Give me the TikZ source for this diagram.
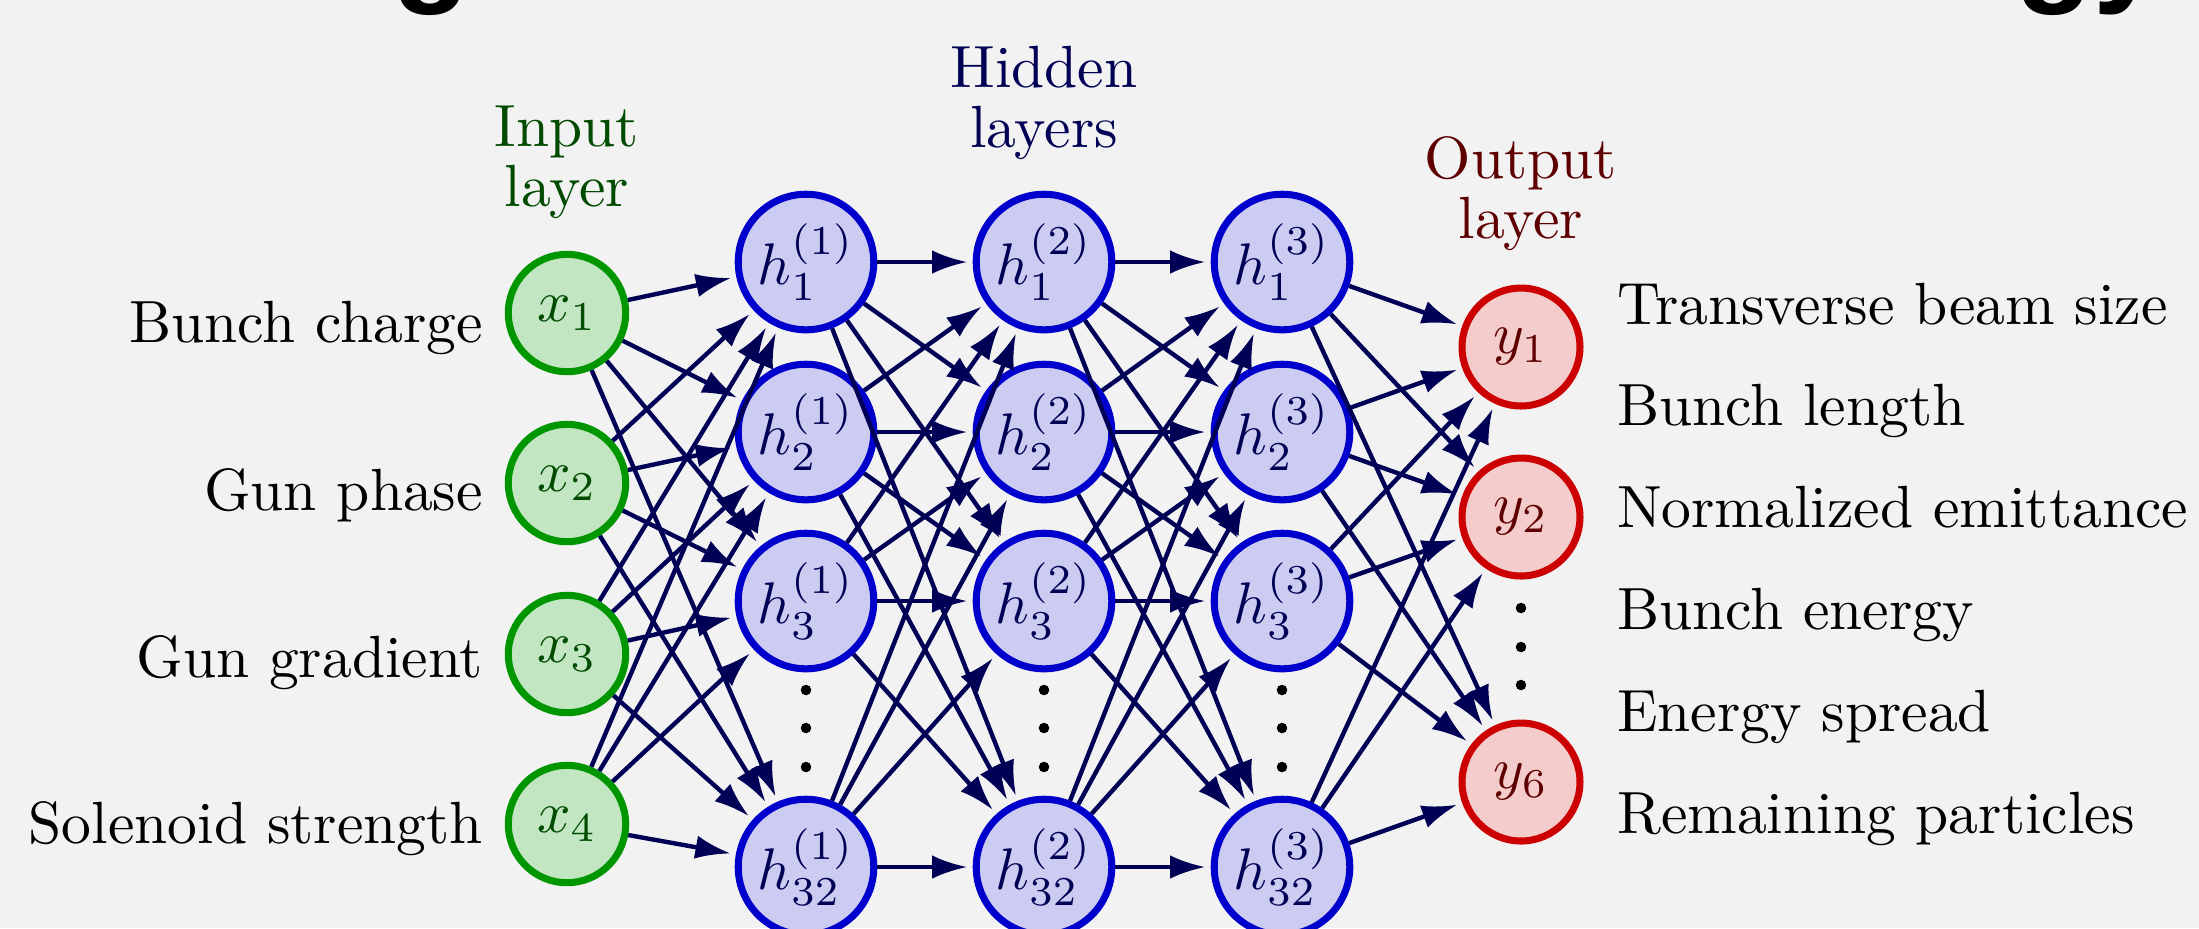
\documentclass[tikz,border=0pt]{standalone}
\usepackage{fontspec}
\newfontfamily\titlefont{Liberation Sans}
\usetikzlibrary{arrows.meta}
\definecolor{bgcol}{RGB}{242,242,242}
\definecolor{inborder}{RGB}{0,150,0}
\definecolor{infill}{RGB}{193,230,193}
\definecolor{intext}{RGB}{0,75,0}
\definecolor{hidborder}{RGB}{0,0,204}
\definecolor{hidfill}{RGB}{204,204,242}
\definecolor{hidtext}{RGB}{0,0,85}
\definecolor{outborder}{RGB}{204,0,0}
\definecolor{outfill}{RGB}{245,204,204}
\definecolor{outtext}{RGB}{95,0,0}
\definecolor{edgecol}{RGB}{0,0,85}
\begin{document}
\begin{tikzpicture}[x=0.1704pt, y=-0.1704pt,
  every node/.style={font=\fontsize{10.15}{10.15}\selectfont},
  inp/.style={circle, draw=inborder, fill=infill, line width=1.2pt, minimum size=20pt, inner sep=0pt, text=intext},
  hid/.style={circle, draw=hidborder, fill=hidfill, line width=1.2pt, minimum size=23.1pt, inner sep=0pt, text=hidtext},
  outn/.style={circle, draw=outborder, fill=outfill, line width=1.2pt, minimum size=20.1pt, inner sep=0pt, text=outtext},
  conn/.style={draw=edgecol, line width=0.75pt, -{Latex[length=6pt,width=4pt]}, shorten >=0.9pt},
  dotc/.style={circle, fill=black, inner sep=0pt, minimum size=1.8pt},
  lbl/.style={align=center, inner sep=0pt},
  title/.style={font=\titlefont\bfseries\fontsize{21.8}{24}\selectfont, text=black, inner sep=0pt}
]
\useasboundingbox (0,0) rectangle (2199,928);
\fill[bgcol] (0,0) rectangle (2199,928);

% cut-off title
\node[title, anchor=base] (tg) at (432,-12) {g};
\node[title, anchor=base west] (tgy) at (2014,-12) {gy};

% layer titles (anchor base = baseline of the last line)
\node[lbl, text=intext, anchor=base] (tin) at (567,206) {Input\\layer};
\node[lbl, text=hidtext, anchor=base] (thid) at (1044,147) {Hidden\\layers};
\node[lbl, text=outtext, anchor=base] (tout) at (1521,238) {Output\\layer};

% input nodes
\node[inp] (x1) at (567,313) {$x_1$};
\node[inp] (x2) at (567,483) {$x_2$};
\node[inp] (x3) at (567,654) {$x_3$};
\node[inp] (x4) at (567,824) {$x_4$};

% input labels
\node[anchor=base east, inner sep=0pt] (lx1) at (484,342) {Bunch charge};
\node[anchor=base east, inner sep=0pt] (lx2) at (484,510) {Gun phase};
\node[anchor=base east, inner sep=0pt] (lx3) at (484,677) {Gun gradient};
\node[anchor=base east, inner sep=0pt] (lx4) at (484,843) {Solenoid strength};

% hidden nodes
\foreach \c/\xx/\s in {a/806/1, b/1044/2, c/1282/3}{
  \node[hid] (h\c1) at (\xx,262) {$h_1^{(\s)}$};
  \node[hid] (h\c2) at (\xx,432) {$h_2^{(\s)}$};
  \node[hid] (h\c3) at (\xx,601) {$h_3^{(\s)}$};
  \node[hid] (h\c32) at (\xx,867) {$h_{32}^{(\s)}$};
  \node[dotc] (d\c1) at (\xx,690) {};
  \node[dotc] (d\c2) at (\xx,728) {};
  \node[dotc] (d\c3) at (\xx,767) {};
}

% output nodes
\node[outn] (y1) at (1521,347) {$y_1$};
\node[outn] (y2) at (1521,517) {$y_2$};
\node[outn] (y6) at (1521,782) {$y_6$};
\node[dotc] (dy1) at (1521,608) {};
\node[dotc] (dy2) at (1521,647) {};
\node[dotc] (dy3) at (1521,685) {};

% output labels
\node[anchor=base west, inner sep=0pt] (ly1) at (1616,324) {Transverse beam size};
\node[anchor=base west, inner sep=0pt] (ly2) at (1616,425) {Bunch length};
\node[anchor=base west, inner sep=0pt] (ly3) at (1616,527) {Normalized emittance};
\node[anchor=base west, inner sep=0pt] (ly4) at (1616,629) {Bunch energy};
\node[anchor=base west, inner sep=0pt] (ly5) at (1616,731) {Energy spread};
\node[anchor=base west, inner sep=0pt] (ly6) at (1616,833) {Remaining particles};

% connections
\foreach \i in {1,2,3,4}{
  \foreach \j in {1,2,3,32}{
    \draw[conn] (x\i) -- (ha\j);
  }
}
\foreach \i in {1,2,3,32}{
  \foreach \j in {1,2,3,32}{
    \draw[conn] (ha\i) -- (hb\j);
    \draw[conn] (hb\i) -- (hc\j);
  }
}
\foreach \i in {1,2,3,32}{
  \foreach \j in {1,2,6}{
    \draw[conn] (hc\i) -- (y\j);
  }
}
\end{tikzpicture}
\end{document}
